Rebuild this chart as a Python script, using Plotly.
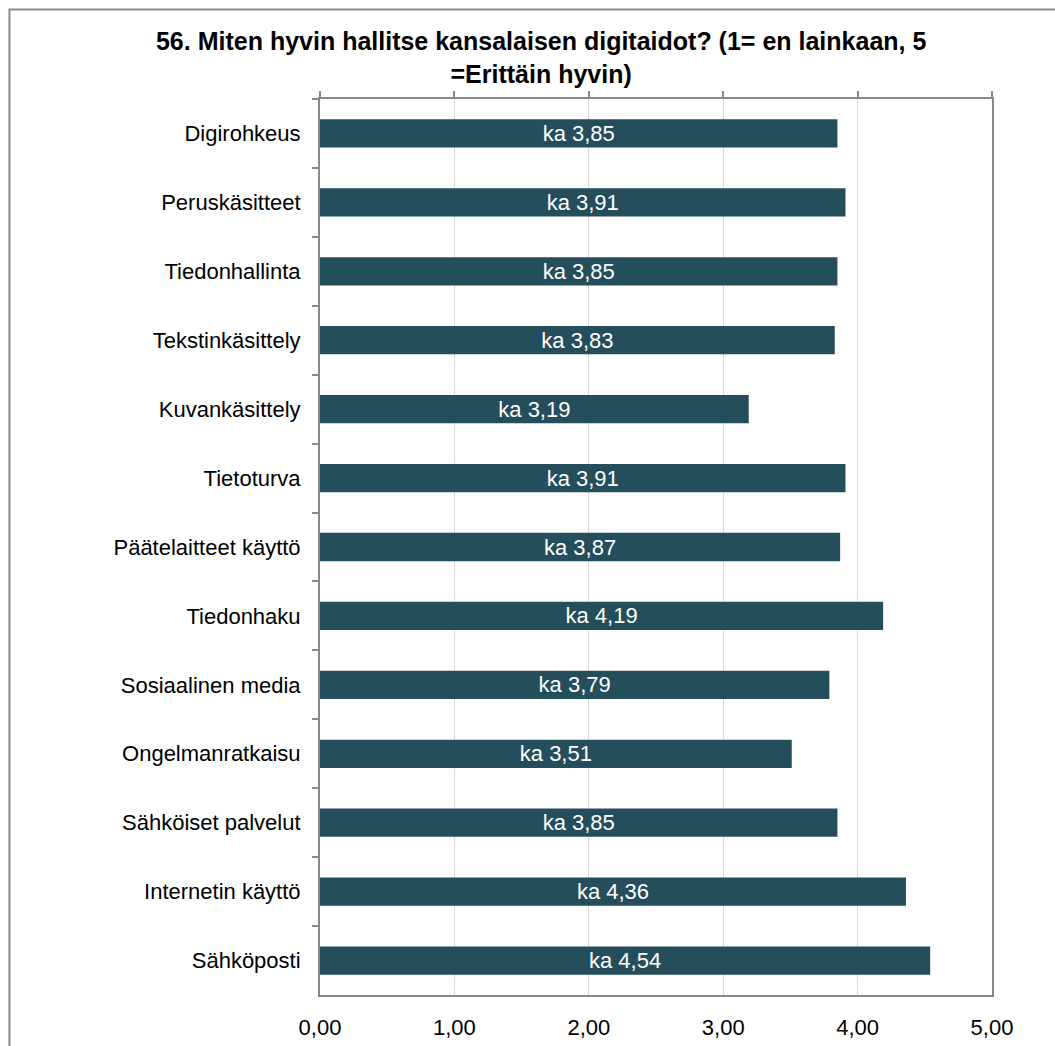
import plotly.graph_objects as go

# Survey skill areas (top to bottom) and their mean scores
categories = [
    "Digirohkeus", "Peruskäsitteet", "Tiedonhallinta", "Tekstinkäsittely",
    "Kuvankäsittely", "Tietoturva", "Päätelaitteet käyttö", "Tiedonhaku",
    "Sosiaalinen media", "Ongelmanratkaisu", "Sähköiset palvelut",
    "Internetin käyttö", "Sähköposti",
]
means = [3.85, 3.91, 3.85, 3.83, 3.19, 3.91, 3.87, 4.19, 3.79, 3.51, 3.85, 4.36, 4.54]
x_ticks = [0, 1, 2, 3, 4, 5]

title_text = ("<b>56. Miten hyvin hallitse kansalaisen digitaidot? (1= en lainkaan, 5"
              "<br>=Erittäin hyvin)</b>")

W, H = 1055, 1046
L, R, T, B = 319.5, 62.5, 99, 51
PW, PH = W - L - R, H - T - B

FONT = "Liberation Sans, Arial, sans-serif"
AXIS = "#898989"
BAR = "#244e5b"

labels = ["ka " + f"{v:.2f}".replace(".", ",") for v in means]

fig = go.Figure()
fig.add_trace(go.Bar(
    x=means, y=categories, orientation="h",
    marker=dict(color=BAR, line=dict(width=0)),
    text=labels, textposition="inside", insidetextanchor="middle",
    constraintext="none",
    textfont=dict(family=FONT, size=22, color="white"),
    textangle=0, hoverinfo="skip", showlegend=False,
))
# invisible trace that carries the top axis with its tick marks
fig.add_trace(go.Scatter(x=[0], y=[categories[0]], xaxis="x2", mode="markers",
                         marker=dict(opacity=0), hoverinfo="skip", showlegend=False))


def px_x(p):
    return (p - L) / PW


def px_y(p):
    return 1 - (p - T) / PH


n = len(categories)

fig.update_layout(
    width=W, height=H,
    margin=dict(l=L, r=R, t=T, b=B, autoexpand=False),
    paper_bgcolor="white", plot_bgcolor="white",
    separators=", ",
    bargap=0.59,
    uniformtext=dict(mode=False),
    font=dict(family=FONT, size=22, color="#000000"),
    title=dict(text=title_text, x=px_x(541), xanchor="center", xref="paper",
               y=1 - 50 / H, yanchor="middle", yref="container",
               font=dict(family=FONT, size=25, color="#000000")),
    xaxis=dict(range=[0, 5], tickvals=x_ticks, tickformat=".2f",
               showgrid=True, gridcolor="#d9d9d9", gridwidth=1,
               showline=True, linecolor=AXIS, linewidth=2,
               ticks="", zeroline=False, ticklabelstandoff=12, automargin=False,
               tickfont=dict(family=FONT, size=22, color="#000000")),
    xaxis2=dict(range=[0, 5], tickvals=x_ticks, overlaying="x", side="top",
                showticklabels=False, showgrid=False, zeroline=False,
                showline=True, linecolor=AXIS, linewidth=2, automargin=False,
                ticks="outside", ticklen=6, tickcolor=AXIS, tickwidth=2),
    yaxis=dict(categoryorder="array", categoryarray=categories,
               range=[n - 0.5, -0.5], tickson="boundaries",
               ticks="outside", ticklen=6, tickcolor=AXIS, tickwidth=2,
               showline=True, linecolor=AXIS, linewidth=2, mirror=True,
               showgrid=False, zeroline=False, ticklabelstandoff=13, automargin=False,
               tickfont=dict(family=FONT, size=22, color="#000000")),
    shapes=[
        dict(type="path", xref="paper", yref="paper",
             path=f"M {px_x(8.5)} {px_y(H + 5)} L {px_x(8.5)} {px_y(9.5)} L {px_x(W + 5)} {px_y(9.5)}",
             line=dict(color=AXIS, width=2), layer="above"),
    ],
)

fig.write_html("out.html")
